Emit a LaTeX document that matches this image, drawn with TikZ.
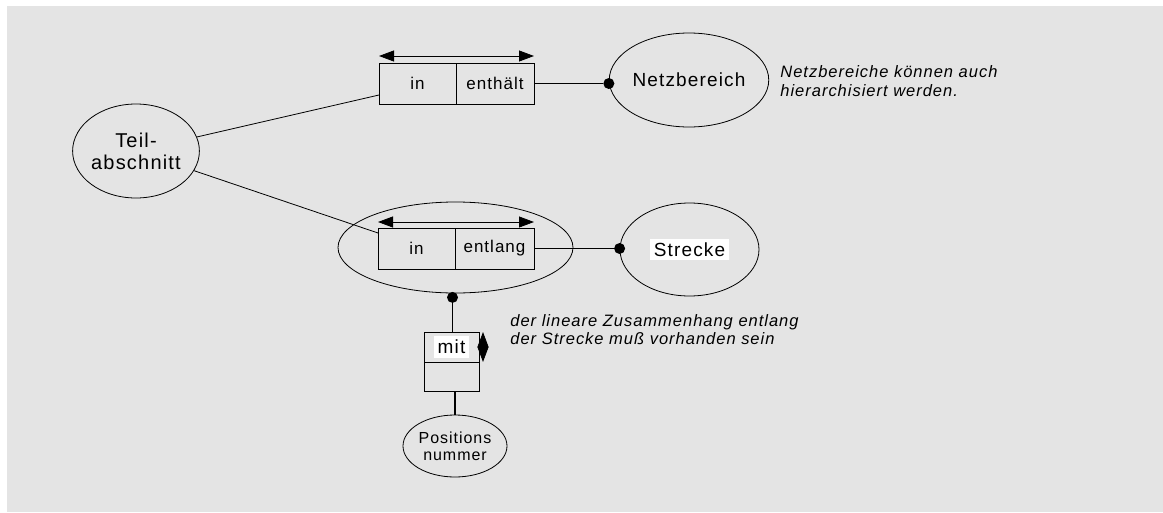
\documentclass[tikz,border=0pt]{standalone}
\usepackage{fontspec}
\setmainfont{Liberation Sans}[LetterSpace=6]
\usetikzlibrary{shapes.geometric, positioning, arrows.meta}
\definecolor{sheet}{HTML}{E4E4E4}

\begin{document}
\begin{tikzpicture}[x=1pt, y=-1pt, line width=0.8pt,
    entity/.style={ellipse, draw, inner sep=0pt, align=center, font=\fontsize{19}{22}\selectfont},
    cell/.style={rectangle, draw, inner sep=0pt, outer sep=0pt, minimum height=41pt, font=\fontsize{17}{20}\selectfont},
    dot/.style={circle, fill, inner sep=0pt, minimum size=11pt},
    tag/.style={fill=white, inner xsep=3.5pt, inner ysep=4pt, font=\fontsize{19}{22}\selectfont},
    note/.style={anchor=base west, inner sep=0pt, align=left, font=\itshape\fontsize{16.5}{19}\selectfont},
    biarrow/.style={{Triangle[length=15pt,width=11pt]}-{Triangle[length=15pt,width=11pt]}}]
  \useasboundingbox (0,0) rectangle (1163,512);
  \fill[sheet] (7,6) rectangle (1163,512);

  % Teilabschnitt
  \node[entity, minimum width=124pt, minimum height=94pt, font=\fontsize{20}{22}\selectfont] (teil) at (136,151) {Teil-\\abschnitt};

  % in / enthaelt -> Netzbereich
  \node[cell, minimum width=77pt] (upIn) at (417.5,83.5) {in};
  \node[cell, minimum width=78pt] (upOut) [right=0pt of upIn] {enthält};
  \draw[biarrow] ([yshift=7pt]upIn.north west) -- ([yshift=7pt]upOut.north east);
  \node[entity, minimum width=138pt, minimum height=94pt] (netz) at (689,80) {Netzbereich};
  \node[dot] (netzDot) at (upOut.east -| netz.west) {};
  \draw (teil) -- ([yshift=-11.5pt]upIn.west);
  \draw (upOut) -- (netzDot);
  \node[note] (netzNote) at (780,96) {Netzbereiche können auch\\hierarchisiert werden.};

  % in / entlang -> Strecke
  \node[ellipse, draw, inner sep=0pt, minimum width=235pt, minimum height=91pt] (loRel) at (455.5,247.5) {};
  \node[cell, minimum width=77pt] (loIn) at (416.5,248.5) {in};
  \node[cell, minimum width=79pt] (loOut) [right=0pt of loIn] {entlang};
  \draw[biarrow] ([yshift=6pt]loIn.north west) -- ([yshift=6pt]loOut.north east);
  \draw (teil) -- ([yshift=-5pt]loIn.north west);
  \node[entity, minimum width=139pt, minimum height=93pt] (strecke) at (689.5,249.5) {};
  \node[tag] (streckeTag) at (strecke) {Strecke};
  \node[dot] (streckeDot) at (loOut.east -| strecke.west) {};
  \draw (loOut) -- (streckeDot);

  % mit -> Positionsnummer
  \node[dot] (relDot) at ([xshift=-3pt,yshift=-4pt]loRel.south) {};
  \node[cell, minimum width=55pt, minimum height=30pt] (mitTop) at (451.5,347) {};
  \node[tag] (mitTag) at (mitTop) {mit};
  \node[cell, minimum width=55pt, minimum height=29pt] (mitBot) [below=0pt of mitTop] {};
  \coordinate (mitArr) at ([xshift=4pt]mitTop.east);
  \draw[biarrow] ([yshift=15pt]mitArr) -- ([yshift=-15pt]mitArr);
  \draw (relDot) -- (relDot |- mitTop.north);
  \node[entity, minimum width=104pt, minimum height=62pt, font=\fontsize{16}{17}\selectfont] (pos) at (455,446) {Positions\\nummer};
  \draw[line width=1.8pt] (mitBot.south -| pos) -- (pos);
  \node[note, font=\itshape\fontsize{16.5}{18}\selectfont] (relNote) at (510,344) {der lineare Zusammenhang entlang\\der Strecke muß vorhanden sein};
\end{tikzpicture}
\end{document}
